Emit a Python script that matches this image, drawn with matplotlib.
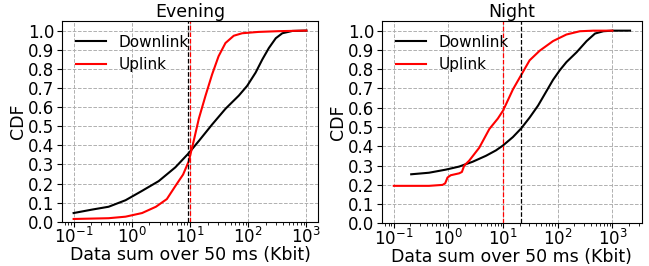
import matplotlib
matplotlib.use("Agg")
import matplotlib.pyplot as plt

# Evening (x in Kbit, y = CDF)
eve_down_x = [0.1, 0.207, 0.40, 0.78, 1.5, 2.9, 5.6, 9.5, 14.2, 24, 40.7, 69, 96, 134, 175, 227, 298, 386, 573, 1000]
eve_down_y = [0.046, 0.064, 0.079, 0.113, 0.162, 0.213, 0.285, 0.359, 0.423, 0.509, 0.591, 0.66, 0.711, 0.78, 0.849, 0.909, 0.96, 0.986, 0.998, 1.0]
eve_up_x = [0.1, 0.40, 0.78, 1.5, 2.6, 4.0, 5.6, 7.6, 9.5, 11.5, 14.2, 18.5, 24, 31, 40.7, 56.5, 78.7, 150, 340, 1000]
eve_up_y = [0.015, 0.019, 0.027, 0.046, 0.079, 0.119, 0.187, 0.247, 0.316, 0.419, 0.54, 0.66, 0.771, 0.866, 0.935, 0.973, 0.986, 0.993, 0.997, 1.0]

# Night
night_down_x = [0.208, 0.44, 0.89, 1.57, 2.77, 4.86, 7.4, 9.9, 15.1, 21.4, 30.5, 43.5, 62, 82, 109, 144, 221, 337, 480, 683, 1000, 2100]
night_down_y = [0.255, 0.263, 0.279, 0.295, 0.32, 0.351, 0.379, 0.404, 0.448, 0.493, 0.549, 0.611, 0.686, 0.745, 0.795, 0.837, 0.888, 0.946, 0.985, 0.997, 1.0, 1.0]
night_up_x = [0.1, 0.44, 0.78, 0.87, 0.96, 1.1, 1.57, 1.76, 1.94, 2.4, 3.66, 5.6, 8.0, 10, 15.1, 21.4, 30.5, 46.7, 82, 144, 254, 447, 1000]
night_up_y = [0.195, 0.195, 0.2, 0.208, 0.238, 0.25, 0.26, 0.267, 0.3, 0.326, 0.393, 0.49, 0.544, 0.586, 0.695, 0.77, 0.846, 0.896, 0.946, 0.98, 0.997, 1.0, 1.0]

# dashed reference lines (downlink, uplink)
eve_vlines = [9.4, 10.0]
night_vlines = [21.4, 10.0]

fig = plt.figure(figsize=(6.49, 2.66), dpi=100)
ax1 = fig.add_axes([0.0955, 0.166, 0.3945, 0.755])
ax2 = fig.add_axes([0.5886, 0.160, 0.4004, 0.761])

panels = [
    (ax1, "Evening", eve_down_x, eve_down_y, eve_up_x, eve_up_y, eve_vlines),
    (ax2, "Night", night_down_x, night_down_y, night_up_x, night_up_y, night_vlines),
]

for ax, title, dx, dy, ux, uy, vl in panels:
    ax.plot(dx, dy, color="black", lw=1.5, label="Downlink")
    ax.plot(ux, uy, color="red", lw=1.5, label="Uplink")
    ax.axvline(vl[0], color="black", ls="--", lw=0.9)
    ax.axvline(vl[1], color="red", ls="--", lw=0.9)
    ax.set_xscale("log")
    ax.set_ylim(0, 1.05)
    ax.set_yticks([i / 10 for i in range(11)])
    ax.grid(True, ls="--", color="#b0b0b0", lw=0.7)
    ax.tick_params(labelsize=12)
    ax.tick_params(axis="x", pad=0.5)
    ax.tick_params(axis="y", pad=2)
    ax.set_title(title, fontsize=12.5, pad=2)
    ax.set_xlabel("Data sum over 50 ms (Kbit)", fontsize=12.5, labelpad=-1)
    ax.set_ylabel("CDF", fontsize=12.5, labelpad=1)
    ax.legend(loc="upper left", frameon=False, fontsize=11)

fig.savefig("out.png", dpi=100)
